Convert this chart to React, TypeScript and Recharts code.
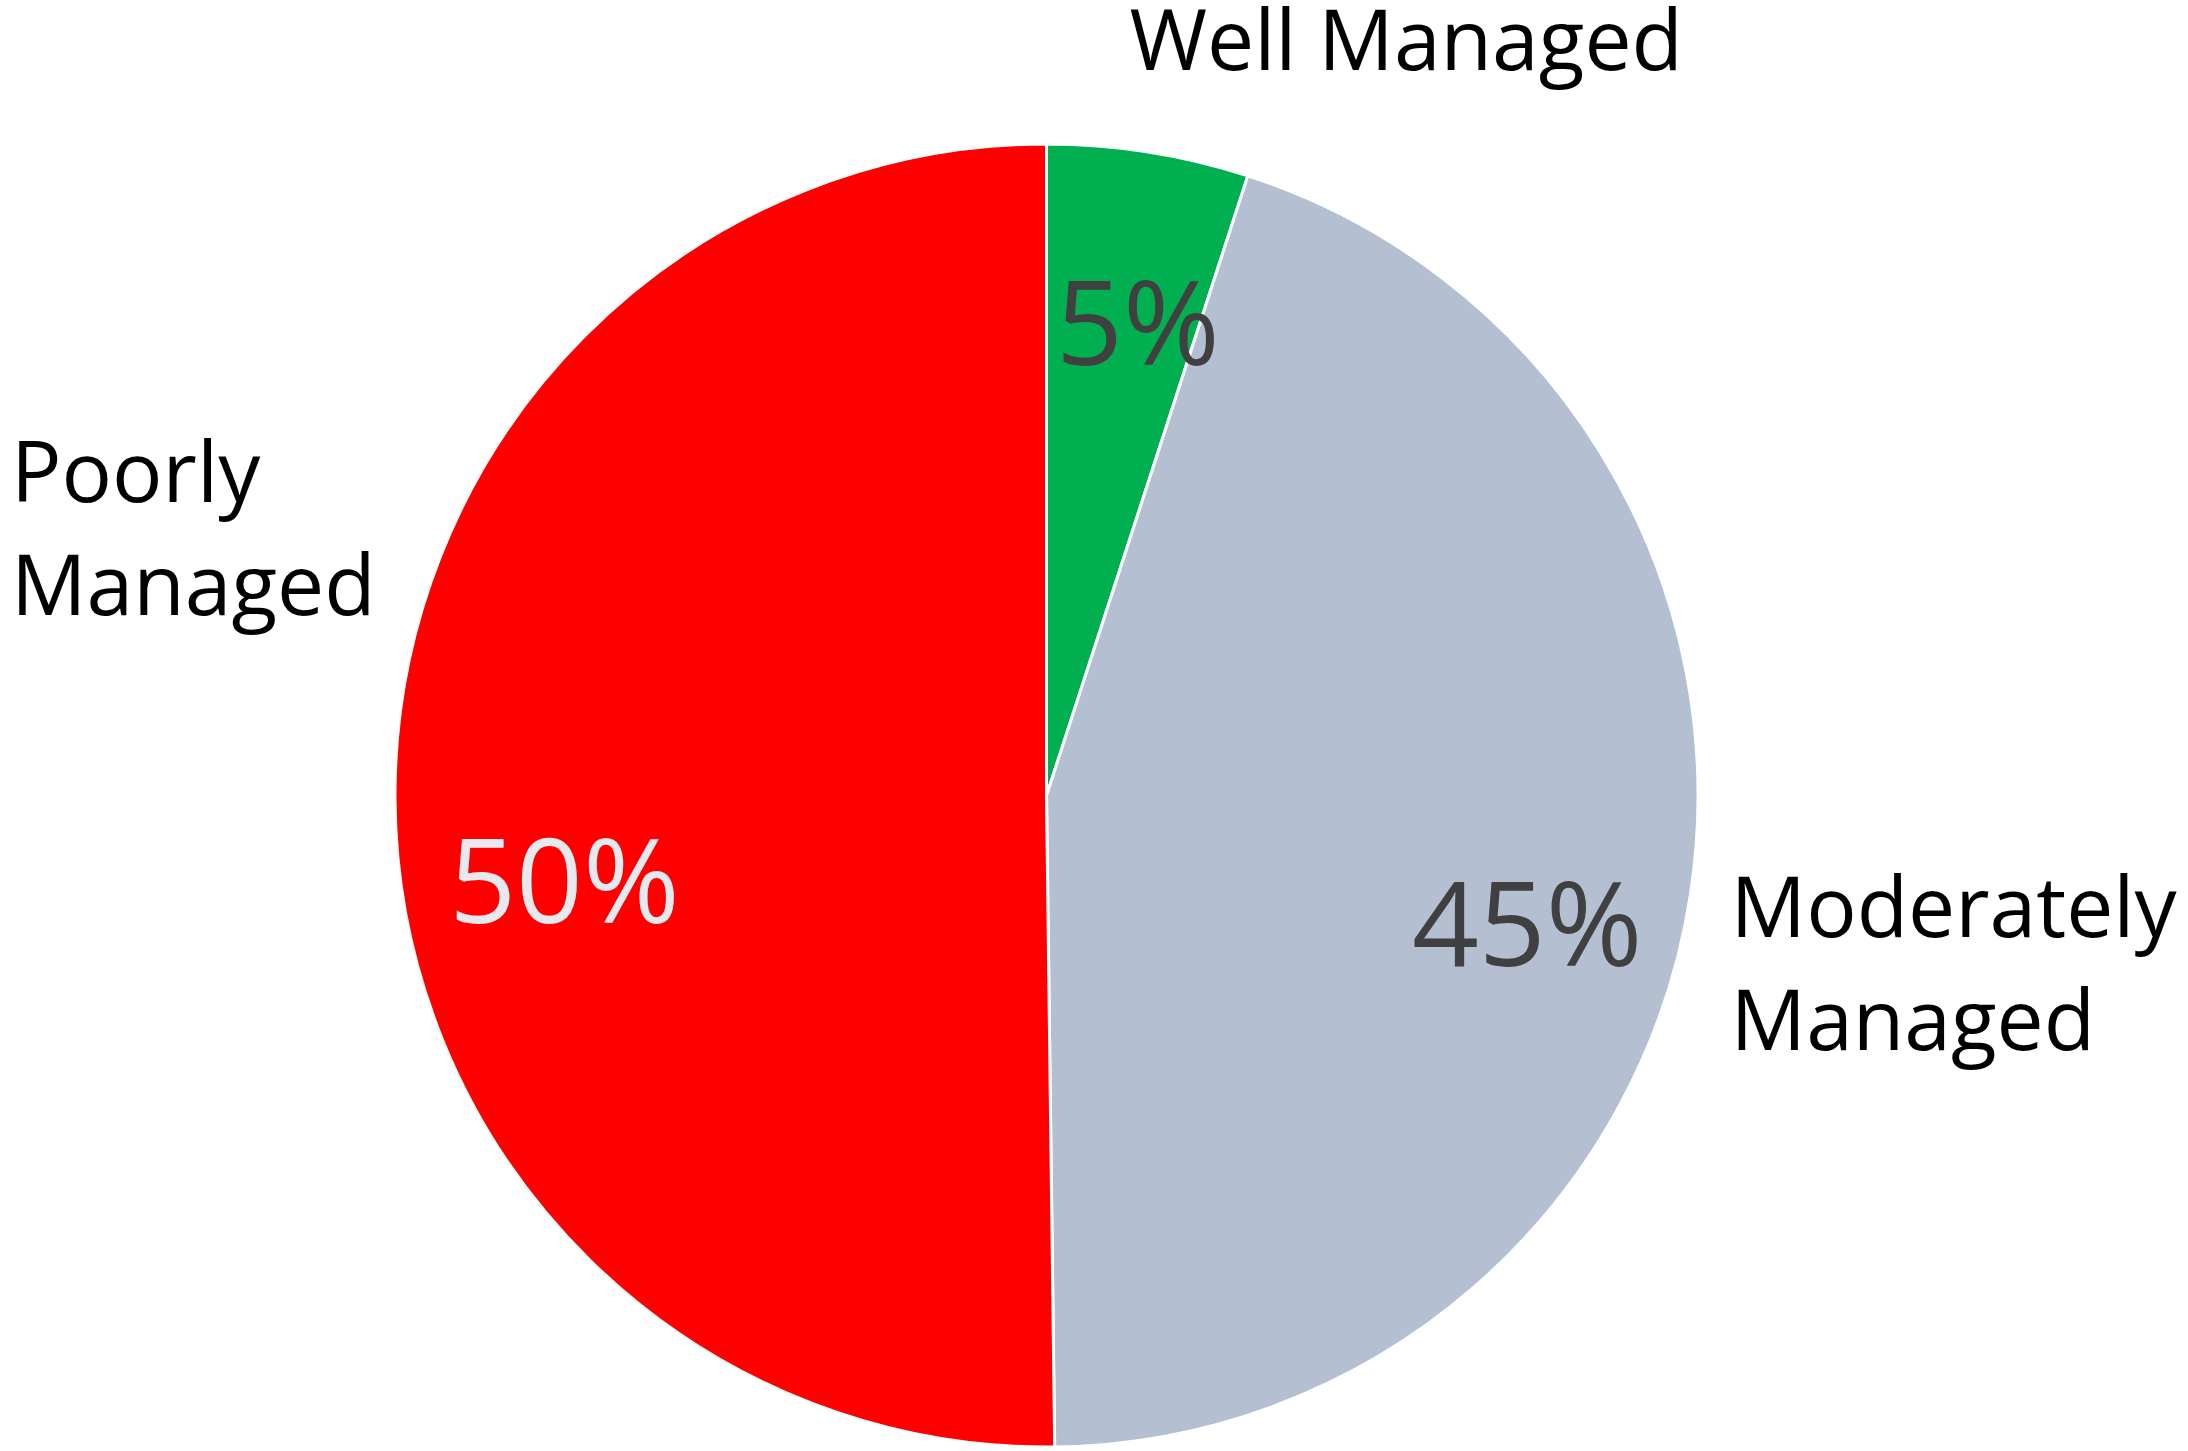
import React from 'react';
import { PieChart, Pie, Cell } from 'recharts';

const categories = ['Well Managed', 'Moderately Managed', 'Poorly Managed'];
const shares = [5.0, 44.8, 50.2];
const nameLines = [['Well Managed'], ['Moderately', 'Managed'], ['Poorly', 'Managed']];

const COLORS = ['#00B050', '#B4C0D1', '#FF0000'];
const PCT_COLORS = ['#404040', '#404040', '#E6EAEF'];
// pixel nudges applied to the anchors recharts computes from midAngle
const PCT_NUDGE = [[16, 46], [4, 98], [0, 124]];
const NAME_NUDGE = [[-19, -82], [40, 44], [-384, -298]];
const LINE_GAP = 113;
const FONT = "'Open Sans', sans-serif";
const RADIAN = Math.PI / 180;

const data = categories.map((name, i) => ({ name, value: shares[i] }));

function renderLabel(props: any) {
  const { cx, cy, midAngle, outerRadius, percent, index } = props;
  const cos = Math.cos(-midAngle * RADIAN);
  const sin = Math.sin(-midAngle * RADIAN);
  const r1 = outerRadius * 0.74;
  const px = cx + r1 * cos + PCT_NUDGE[index][0];
  const py = cy + r1 * sin + PCT_NUDGE[index][1];
  const nx = cx + outerRadius * cos + NAME_NUDGE[index][0];
  const ny = cy + outerRadius * sin + NAME_NUDGE[index][1];
  const lines = nameLines[index];
  return (
    <g>
      <text x={px} y={py} textAnchor="middle" fill={PCT_COLORS[index]} fontSize={117} fontFamily={FONT}>
        {`${Math.round(percent * 100)}%`}
      </text>
      <text x={nx} y={ny} textAnchor="start" fill="#000000" fontSize={84} fontFamily={FONT}>
        {lines.map((l, i) => (
          <tspan key={i} x={nx} y={ny + i * LINE_GAP}>{l}</tspan>
        ))}
      </text>
    </g>
  );
}

export default function App() {
  return (
    <div style={{ position: 'absolute', left: 0, top: 0, width: 2188, height: 1451, background: '#fff' }}>
      <PieChart width={2188} height={1451} margin={{ top: 0, right: 0, bottom: 0, left: 0 }}>
        <Pie
          data={data}
          dataKey="value"
          nameKey="name"
          cx={1046.5}
          cy={795.5}
          outerRadius={651.5}
          startAngle={90}
          endAngle={-270}
          stroke="#ffffff"
          strokeWidth={3}
          label={renderLabel}
          labelLine={false}
          isAnimationActive={false}
        >
          {data.map((d, i) => (
            <Cell key={d.name} fill={COLORS[i]} />
          ))}
        </Pie>
      </PieChart>
    </div>
  );
}
